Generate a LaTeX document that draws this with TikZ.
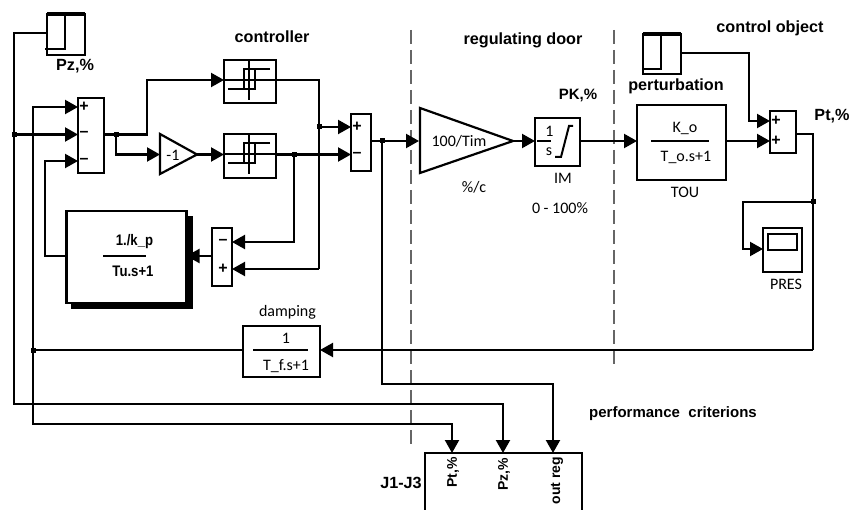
\documentclass[tikz,border=0pt]{standalone}
\usepackage{fontspec}
\setmainfont{Liberation Sans}
\newfontfamily\carlitofont{Carlito}
\usetikzlibrary{arrows.meta}
\tikzset{
 blk/.style={draw,line width=2.2pt,fill=white,inner sep=0pt,outer sep=0pt,rectangle},
 wire/.style={line width=2.2pt},
 arr/.style={line width=2.2pt,-{Triangle[length=13pt,width=14pt]}},
 bold label/.style={font=\bfseries\fontsize{16.2}{18}\selectfont,inner sep=0pt},
 small bold/.style={font=\bfseries\fontsize{15}{17}\selectfont,inner sep=0pt},
 cal label/.style={font=\carlitofont\fontsize{16}{18}\selectfont,inner sep=0pt},
 sign/.style={font=\bfseries\fontsize{16}{16}\selectfont,inner sep=0pt},
 dot/.style={rectangle,fill=black,inner sep=0pt,minimum size=5pt},
 divider/.style={draw=black!60,line width=1.5pt,dash pattern=on 14pt off 6pt},
}
\begin{document}
\begin{tikzpicture}[x=1pt,y=-1pt]
\useasboundingbox (0,0) rectangle (856,510);
% dividers
\coordinate (d1a) at (411,30); \coordinate (d1b) at (411,445);
\coordinate (d2a) at (614,30); \coordinate (d2b) at (614,367);
\draw[divider] (d1a) -- (d1b);
\draw[divider] (d2a) -- (d2b);

% blocks
\node[blk,minimum width=38pt,minimum height=41pt] (pz) at (66,34.5) {};
\node[blk,minimum width=26pt,minimum height=75pt] (sumA) at (91,135.5) {};
\node[blk,minimum width=52pt,minimum height=43pt] (relA) at (250,81.5) {};
\node[blk,minimum width=52pt,minimum height=44pt] (relB) at (250,156) {};
\draw[line width=2.2pt,fill=white] (160,134) -- (197,154.5) -- (160,174) -- cycle;
\coordinate (gainIn) at (160,154.5); \coordinate (gainOut) at (197,154.5);
\node[cal label] (gainT) at (173,155) {-1};
\node[blk,minimum width=20pt,minimum height=57pt] (sumB) at (361,142.5) {};
\node[blk,minimum width=20pt,minimum height=58pt] (sumC) at (222,257) {};
\fill (71,216) rectangle (192.5,309);
\node[blk,minimum width=120pt,minimum height=92pt] (fb) at (126.5,257) {};
\draw[line width=2.2pt,fill=white,line join=miter] (420,108) -- (513,141) -- (420,173) -- cycle;
\coordinate (bigIn) at (419,141); \coordinate (bigOut) at (513,141);
\node[blk,minimum width=45pt,minimum height=48pt] (im) at (557.5,142) {};
\node[blk,minimum width=89pt,minimum height=75pt] (tou) at (681.5,142.5) {};
\node[blk,minimum width=38pt,minimum height=40pt] (pert) at (662,54) {};
\node[blk,minimum width=26pt,minimum height=42pt] (sumD) at (783,132) {};
\node[blk,minimum width=39pt,minimum height=44pt] (scope) at (782.5,250) {};
\node[blk,minimum width=29pt,minimum height=16pt,line width=2pt] (screen) at (782.5,242) {};
\node[blk,minimum width=77pt,minimum height=51pt] (damp) at (281.5,351.5) {};
\draw[line width=2.2pt] (425,510) |- (582,453) -- (582,510);

% step icons
\draw[line width=2.2pt] (65,14) -- (65,49) -- (45,49);
\draw[line width=3.4pt] (47,14) -- (85,14);
\draw[line width=2.2pt] (661,34) -- (661,69) -- (642,69);
\draw[line width=3.4pt] (643,34) -- (681,34);

% relay icons
\draw[line width=2pt] (228,89) -- (254.5,89) -- (254.5,69);
\draw[line width=2pt] (270,69) -- (244,69) -- (244,89);
\draw[line width=2pt] (249,61) -- (249,100);
\draw[line width=2pt] (224,80) -- (276,80);
\draw[line width=2pt] (228,163) -- (254.5,163) -- (254.5,143);
\draw[line width=2pt] (270,143) -- (244,143) -- (244,163);
\draw[line width=2pt] (249,135) -- (249,174);
\draw[line width=2pt] (224,154.5) -- (276,154.5);

% integrator icon
\draw[line width=2pt] (537,141) -- (551,141);
\draw[line width=2pt] (555,157) -- (561,157) -- (569,126) -- (573,126);

% fraction bars
\draw[line width=2.4pt] (103,256) -- (146,256);
\draw[line width=2.2pt] (651,141) -- (709,141);
\draw[line width=2.2pt] (253,350) -- (308,350);

% block texts
\node[cal label] (imA) at (549.5,131) {1};
\node[cal label] (imB) at (549,152) {s};
\node[cal label] (bigT) at (459,141) {100/Tim};
\node[cal label] (kT) at (685,128) {K\_o};
\node[cal label] (tT) at (686,157) {T\_o.s+1};
\node[cal label] (dampA) at (286,338) {1};
\node[cal label] (dampB) at (286,366) {T\_f.s+1};
\node[inner sep=0pt,font=\bfseries\fontsize{15.3}{16}\selectfont,xscale=.86] (fbA) at (134.5,242) {1./k\_p};
\node[inner sep=0pt,font=\bfseries\fontsize{15.3}{16}\selectfont,xscale=.86] (fbB) at (133,271) {Tu.s+1};

% signs
\node[sign] (sA1) at (84,107) {+};
\node[sign] (sA2) at (84,134) {--};
\node[sign] (sA3) at (84,161) {--};
\node[sign] (sB1) at (357,127) {+};
\node[sign] (sB2) at (357,155) {--};
\node[sign] (sC1) at (223,242) {--};
\node[sign] (sC2) at (223,269) {+};
\node[sign] (sD1) at (776,121) {+};
\node[sign] (sD2) at (776,141) {+};

% ports
\coordinate (aIn1) at (sumA.west |- 0,107);
\coordinate (aIn2) at (sumA.west |- 0,134.5);
\coordinate (aIn3) at (sumA.west |- 0,161);
\coordinate (aOut) at (sumA.east |- 0,134.5);
\coordinate (jA) at (116,134.5);
\coordinate (bIn1) at (sumB.west |- 0,127);
\coordinate (bIn2) at (sumB.west |- 0,154.5);
\coordinate (jB) at (319,127);
\coordinate (jC) at (294,154.5);
\coordinate (bOut) at (sumB.east |- 0,141);
\coordinate (jD) at (382,141);
\coordinate (cIn1) at (sumC.east |- 0,242);
\coordinate (cIn2) at (sumC.east |- 0,269);
\coordinate (dIn1) at (sumD.west |- 0,121);
\coordinate (dIn2) at (sumD.west |- 0,141);
\coordinate (dOut) at (sumD.east |- 0,134);
\coordinate (jE) at (813,202);
\coordinate (jF) at (33,350);
\coordinate (jG) at (14,134.5);
\coordinate (jPt) at (452,453);
\coordinate (jPz) at (503,453);
\coordinate (jOut) at (553,453);

% connectors
\draw[arr] (pz.west |- 0,33) -| (14,404) -| (jPz);
\draw[arr] (jG) -- (aIn2);
\draw[arr] (jF) -- (33,107) -- (aIn1);
\draw[arr] (damp.west |- 0,350) -- (jF) -- (33,424) -| (jPt);
\draw[arr] (fb.west |- 0,256) -| (45,161) -- (aIn3);
\draw[arr] (aOut) -| (147,80) -- (relA.west |- 0,80);
\draw[arr] (jA) |- (gainIn);
\draw[arr] (gainOut) -- (relB.west |- 0,154.5);
\draw[wire] (relA.east |- 0,80) -| (319,269);
\draw[arr] (319,269) -- (cIn2);
\draw[arr] (jB) -- (bIn1);
\draw[arr] (relB.east |- 0,154.5) -- (bIn2);
\draw[arr] (jC) |- (cIn1);
\draw[arr] (sumC.west |- 0,256) -- (fb.east |- 0,256);
\draw[arr] (bOut) -- (bigIn);
\draw[arr] (jD) |- (553,384) -- (jOut);
\draw[arr] (bigOut) -- (im.west |- 0,141);
\draw[arr] (im.east |- 0,141) -- (tou.west |- 0,141);
\draw[arr] (tou.east |- 0,141) -- (dIn2);
\draw[arr] (pert.east |- 0,53) -| (749,121) -- (dIn1);
\draw[wire] (dOut) -| (813,350);
\draw[arr] (813,350) -- (damp.east |- 0,350);
\draw[arr] (jE) -| (743,249) -- (scope.west |- 0,249);

% junctions
\foreach \p in {jG,jA,jB,jC,jD,jF,jE}{\node[dot] at (\p) {};}

% labels
\node[bold label] (lPz) at (75,66) {Pz,\%};
\node[bold label] (lCtl) at (272,37) {controller};
\node[bold label] (lReg) at (523,40) {regulating door};
\node[bold label] (lCo) at (770,28) {control object};
\node[bold label] (lPert) at (676,86) {perturbation};
\node[small bold] (lPK) at (578,95) {PK,\%};
\node[bold label] (lPt) at (832,116) {Pt,\%};
\node[small bold] (lPerf) at (673,414) {performance\ \ criterions};
\node[bold label] (lJ) at (401,483) {J1-J3};
\node[cal label] (lPc) at (474,187) {\%/c};
\node[cal label] (lIM) at (563,178) {IM};
\node[cal label] (lRange) at (560,208) {0 - 100\%};
\node[cal label] (lTou) at (685,192) {TOU};
\node[cal label] (lPres) at (786,284) {PRES};
\node[cal label] (lDamp) at (287.5,312) {damping};
\node[small bold,font=\bfseries\fontsize{14}{16}\selectfont,rotate=90] (rPt) at (453,472.5) {Pt,\%};
\node[small bold,font=\bfseries\fontsize{14}{16}\selectfont,rotate=90] (rPz) at (504,474) {Pz,\%};
\node[small bold,font=\bfseries\fontsize{14}{16}\selectfont,rotate=90] (rOut) at (557,480.5) {out reg};
\end{tikzpicture}
\end{document}
